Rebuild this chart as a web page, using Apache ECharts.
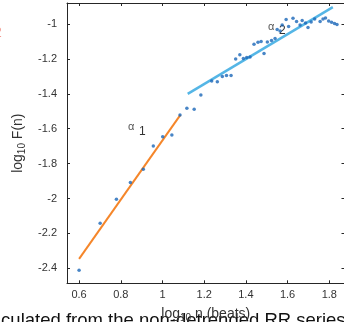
<!DOCTYPE html>
<html>
<head>
<meta charset="utf-8">
<script src="https://cdn.jsdelivr.net/npm/echarts@6/dist/echarts.min.js"></script>
<style>
  html, body { margin: 0; padding: 0; background: #fff; }
  #chart { width: 344px; height: 322px; }
</style>
</head>
<body>
<div id="chart"></div>
<script>
// log10 n (beats) and log10 F(n)
var logN = [0.600, 0.701, 0.779, 0.846, 0.908, 0.956, 1.001, 1.045, 1.084, 1.117,
            1.152, 1.184, 1.236, 1.263, 1.287, 1.307, 1.329, 1.351, 1.371, 1.388,
            1.404, 1.420, 1.439, 1.458, 1.473, 1.487, 1.503, 1.523, 1.540, 1.550,
            1.564, 1.574, 1.593, 1.605, 1.626, 1.643, 1.660, 1.670, 1.686, 1.698,
            1.713, 1.730, 1.756, 1.770, 1.782, 1.797, 1.811, 1.825, 1.837];
var logF = [-2.411, -2.142, -2.005, -1.909, -1.832, -1.699, -1.646, -1.636, -1.521, -1.483,
            -1.489, -1.407, -1.327, -1.331, -1.301, -1.295, -1.295, -1.201, -1.176, -1.198,
            -1.192, -1.189, -1.116, -1.105, -1.101, -1.170, -1.103, -1.095, -1.083, -1.032,
            -1.040, -1.006, -0.974, -1.014, -0.968, -0.986, -1.006, -0.980, -0.994, -1.020,
            -0.989, -0.971, -0.986, -0.971, -0.966, -0.983, -0.991, -0.997, -1.003];

// fitted lines (alpha1 short range, alpha2 long range)
var fit1X = [0.600, 1.086];
var fit1Y = [-2.346, -1.521];
var fit2X = [1.121, 1.817];
var fit2Y = [-1.401, -0.904];

var xTicks = [0.6, 0.8, 1, 1.2, 1.4, 1.6, 1.8];
var yTicks = [-2.4, -2.2, -2, -1.8, -1.6, -1.4, -1.2, -1];

var points = [];
for (var i = 0; i < logN.length; i++) {
  points.push([logN[i], logF[i]]);
}
function pairs(xs, ys) {
  var out = [];
  for (var j = 0; j < xs.length; j++) out.push([xs[j], ys[j]]);
  return out;
}

var axisColor = '#262626';
var font = 'Liberation Sans, Arial, sans-serif';

function xAxisCfg(pos, showLabel) {
  return {
    type: 'value', position: pos, min: 0.542, max: 1.873,
    axisLine: { show: true, onZero: false, lineStyle: { color: axisColor, width: 1 } },
    axisTick: { show: true, inside: true, length: 3, customValues: xTicks, lineStyle: { color: axisColor } },
    axisLabel: { show: showLabel, customValues: xTicks, margin: 6, color: '#333', fontSize: 11, fontFamily: font },
    splitLine: { show: false }
  };
}
function yAxisCfg(pos, showLabel) {
  return {
    type: 'value', position: pos, min: -2.486, max: -0.880,
    axisLine: { show: true, onZero: false, lineStyle: { color: axisColor, width: 1 } },
    axisTick: { show: true, inside: true, length: 3, customValues: yTicks, lineStyle: { color: axisColor } },
    axisLabel: { show: showLabel, customValues: yTicks, margin: 10, color: '#333', fontSize: 11, fontFamily: font },
    splitLine: { show: false }
  };
}

var nameRich = {
  a: { fontSize: 14, color: '#333', fontFamily: font },
  s: { fontSize: 10, color: '#333', fontFamily: font, padding: [9, 0, 0, 0] }
};

var xb = xAxisCfg('bottom', true);
xb.name = '{a|log}{s|10}{a| n (beats)}';
xb.nameLocation = 'middle';
xb.nameGap = 21;
xb.nameTextStyle = { rich: nameRich };

var yl = yAxisCfg('left', true);
yl.name = '{a|log}{s|10}{a| F(n)}';
yl.nameLocation = 'middle';
yl.nameGap = 37;
yl.nameRotate = 90;
yl.nameTextStyle = { rich: nameRich };

var myChart = echarts.init(document.getElementById('chart'));
var option = {
  animation: false,
  grid: { left: 67, top: 3, width: 277.5, height: 280.3, containLabel: false, outerBoundsMode: 'none' },
  xAxis: [xb, xAxisCfg('top', false)],
  yAxis: [yl, yAxisCfg('right', false)],
  series: [
    {
      type: 'line', data: pairs(fit1X, fit1Y), symbol: 'none',
      lineStyle: { color: '#F5862A', width: 2 }, z: 2
    },
    {
      type: 'line', data: pairs(fit2X, fit2Y), symbol: 'none',
      lineStyle: { color: '#55B6E6', width: 2.5 }, z: 2
    },
    {
      type: 'scatter', data: points, symbol: 'circle', symbolSize: 3.5,
      itemStyle: { color: '#1A66B8' }, z: 3
    }
  ],
  graphic: [
    { type: 'text', left: 128, top: 121, style: { text: 'α', fontSize: 11, fill: '#555', fontFamily: font } },
    { type: 'text', left: 139, top: 126, style: { text: '1', fontSize: 12, fill: '#333', fontFamily: font } },
    { type: 'text', left: 268, top: 21, style: { text: 'α', fontSize: 11, fill: '#555', fontFamily: font } },
    { type: 'text', left: 279, top: 25, style: { text: '2', fontSize: 12, fill: '#333', fontFamily: font } },
    { type: 'text', x: -6, y: 26, style: { text: '2', fontSize: 14, fill: '#F29A90', fontFamily: font } },
    { type: 'text', x: -3, y: 311, z: -1, style: { text: 'lculated from the non-detrended RR series', fontSize: 18.5, fill: '#111', fontFamily: font } }
  ]
};
myChart.setOption(option, true);
</script>
</body>
</html>
